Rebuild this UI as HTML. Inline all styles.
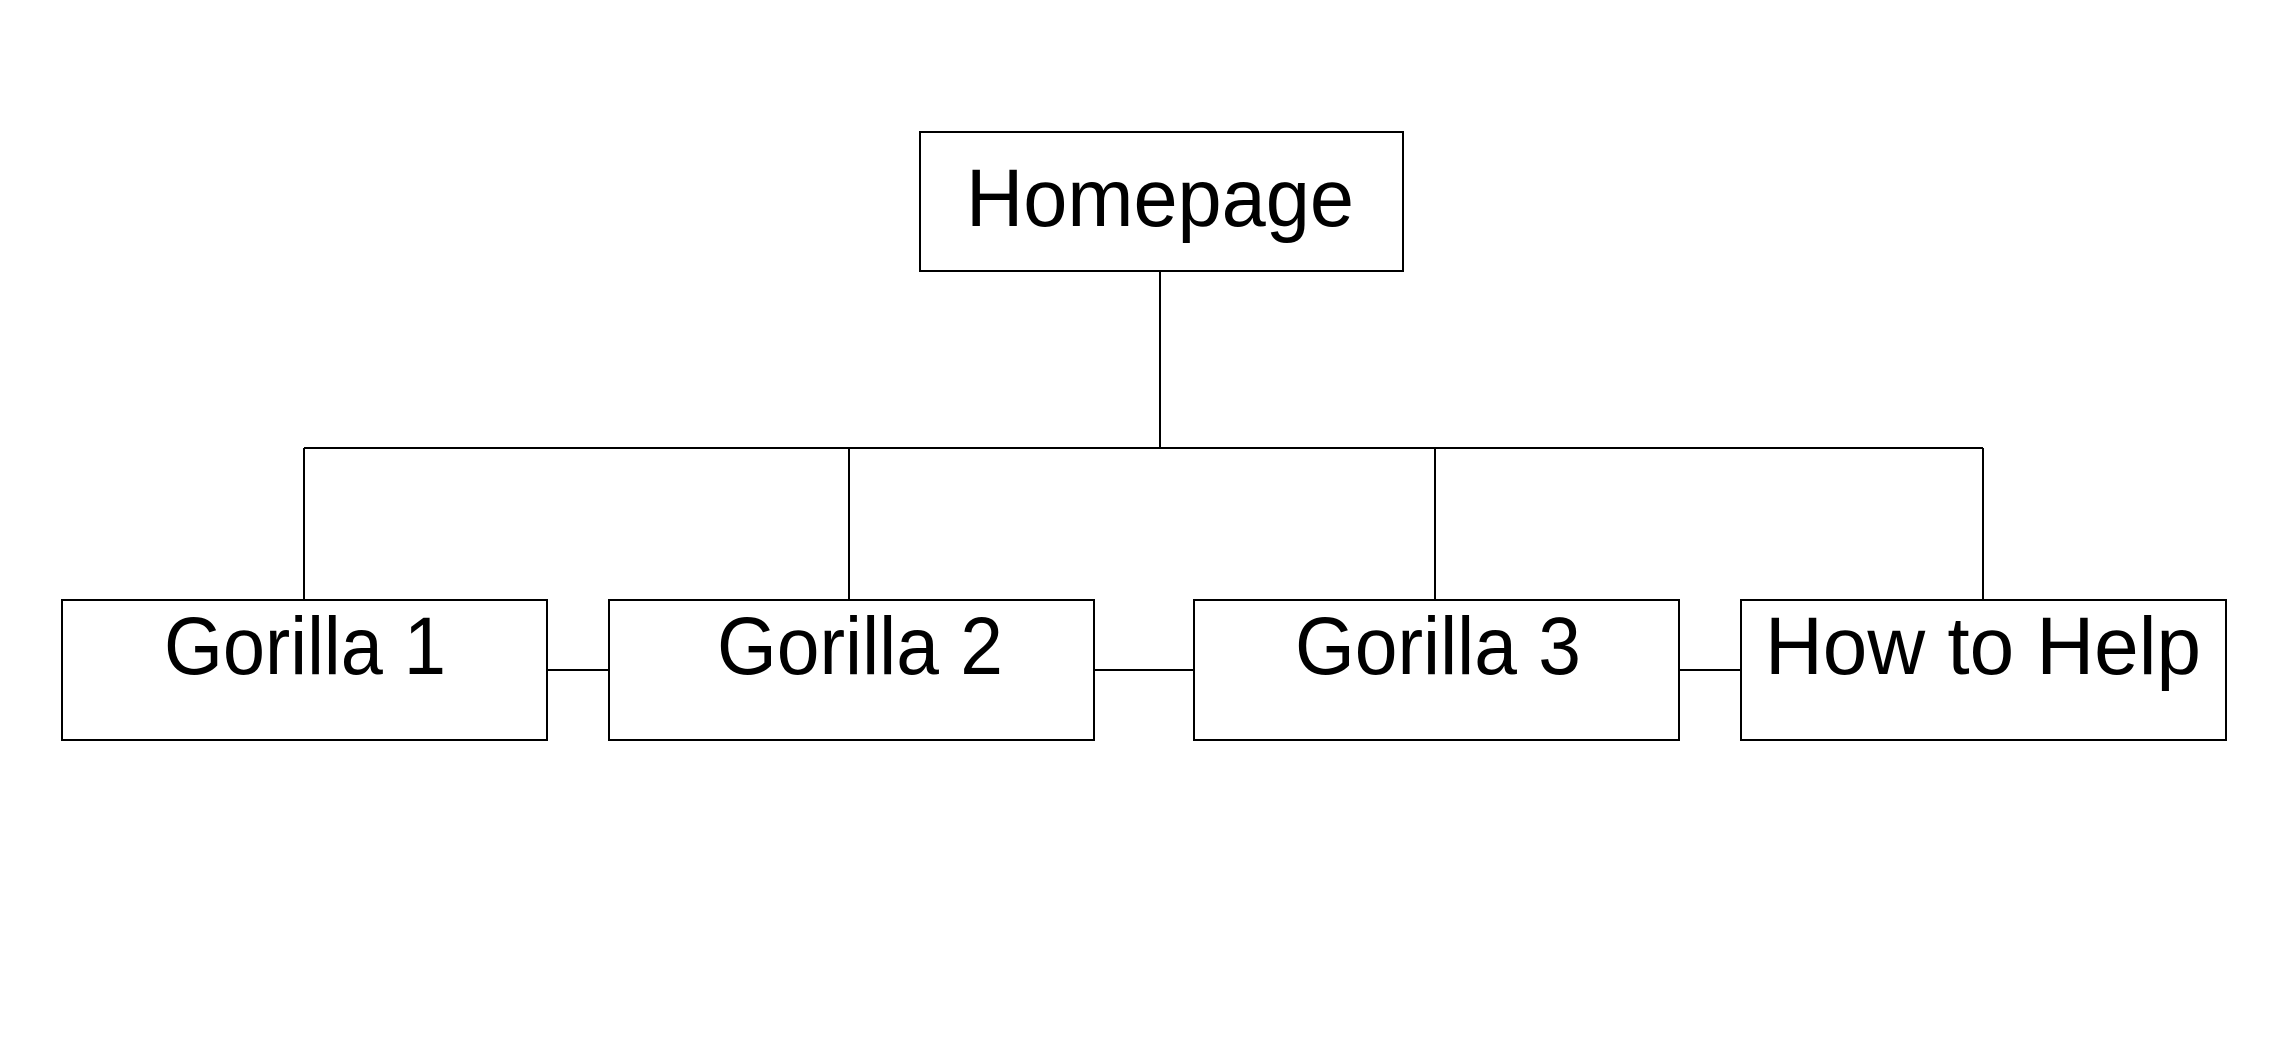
<!DOCTYPE html>
<html><head><style>html,body{margin:0;padding:0;background:#fff;}svg{display:block}</style></head>
<body>
<svg width="2291" height="1056" viewBox="0 0 2291 1056" xmlns="http://www.w3.org/2000/svg">
<g fill="none" stroke="#000" stroke-width="2">
<rect x="920" y="132" width="483" height="139"/>
<line x1="1160" y1="271" x2="1160" y2="448"/>
<line x1="304" y1="448" x2="1983" y2="448"/>
<line x1="304" y1="448" x2="304" y2="600"/>
<line x1="849" y1="448" x2="849" y2="600"/>
<line x1="1435" y1="448" x2="1435" y2="600"/>
<line x1="1983" y1="448" x2="1983" y2="600"/>
<rect x="62" y="600" width="485" height="140"/>
<rect x="609" y="600" width="485" height="140"/>
<rect x="1194" y="600" width="485" height="140"/>
<rect x="1741" y="600" width="485" height="140"/>
<line x1="547" y1="670" x2="609" y2="670"/>
<line x1="1094" y1="670" x2="1194" y2="670"/>
<line x1="1679" y1="670" x2="1741" y2="670"/>
</g>
<g font-family="Liberation Sans, sans-serif" font-size="82" fill="#000">
<text x="966" y="226" textLength="388" lengthAdjust="spacingAndGlyphs">Homepage</text>
<text x="164" y="674" textLength="282" lengthAdjust="spacingAndGlyphs">Gorilla 1</text>
<text x="717" y="674" textLength="286" lengthAdjust="spacingAndGlyphs">Gorilla 2</text>
<text x="1295" y="674" textLength="286" lengthAdjust="spacingAndGlyphs">Gorilla 3</text>
<text x="1765" y="674" textLength="436" lengthAdjust="spacingAndGlyphs">How to Help</text>
</g>
</svg>
</body></html>
